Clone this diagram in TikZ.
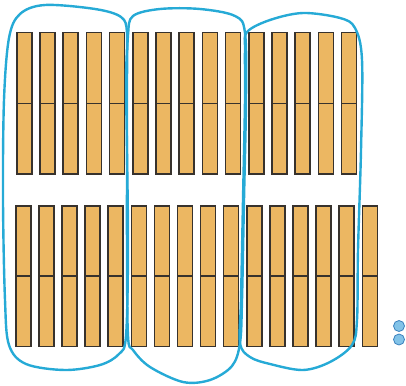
\documentclass[tikz,border=0pt]{standalone}
\definecolor{barfill}{RGB}{236,183,98}
\definecolor{barline}{RGB}{55,50,45}
\definecolor{loopblue}{RGB}{38,170,214}
\definecolor{dotfill}{RGB}{130,195,232}
\definecolor{dotline}{RGB}{60,130,190}
\begin{document}
\begin{tikzpicture}[x=1pt,y=-1pt,
  bar/.style={draw=barline,line width=1.5pt,fill=barfill,minimum width=15pt,inner sep=0pt,
    path picture={\draw[barline,line width=1.3pt] (path picture bounding box.west) -- (path picture bounding box.east);}},
  loopline/.style={draw=loopblue,line width=2.4pt,line join=round},
  dot/.style={circle,draw=dotline,line width=0.8pt,fill=dotfill,minimum size=11pt,inner sep=0pt}]
\useasboundingbox (0,0) rectangle (406,385);
% top row
\foreach \i in {0,...,14}{
  \node[bar,minimum height=141pt,anchor=north west] (t\i) at ({16+23.2*\i},32) {};
}
% bottom row
\foreach \i in {0,...,15}{
  \node[bar,minimum height=140.5pt,anchor=north west] (b\i) at ({15+23.1*\i},205) {};
}
% ones
\node[dot] (d1) at (399,326) {};
\node[dot] (d2) at (399,339.5) {};
% loops
\draw[loopline] plot[smooth cycle,tension=0.55] coordinates {
 (127,33) (121,17) (95,9) (45,5) (20,14) (9,38) (4,100) (3,200) (5,300) (9,345)
 (26,364) (65,370) (100,365) (119,354) (126,336) (128,250) (127,150) (126,80)};
\draw[loopline] plot[smooth cycle,tension=0.55] coordinates {
 (128,336) (127,250) (127,150) (127,80) (128,35) (133,16) (160,9) (200,9) (235,16)
 (245,33) (246,100) (244,200) (242,300) (240,343) (232,366) (210,380) (183,382) (150,367) (133,350)};
\draw[loopline] plot[smooth cycle,tension=0.55] coordinates {
 (247,32) (270,20) (303,13) (340,18) (355,28) (362,60) (361,150) (358,250) (357,320)
 (352,345) (330,362) (303,370) (270,364) (250,357) (240,343) (241,300) (243,200) (245,100) (245,50)};
\end{tikzpicture}
\end{document}
